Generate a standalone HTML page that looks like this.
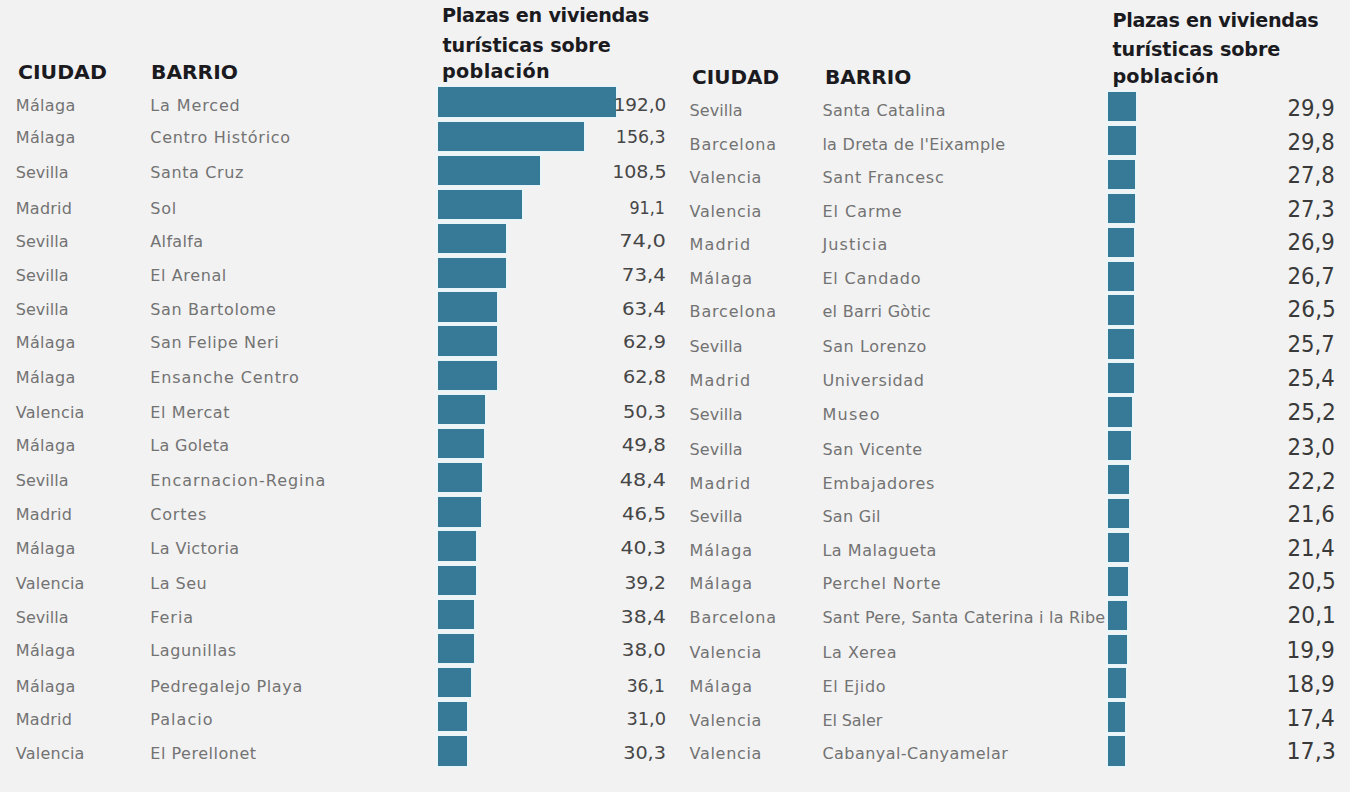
<!DOCTYPE html>
<html lang="es"><head><meta charset="utf-8"><title>Plazas en viviendas turísticas sobre población</title>
<style>
html,body{margin:0;padding:0;background:#f2f2f2;}
body{width:1350px;height:792px;position:relative;overflow:hidden;
font-family:"DejaVu Sans","Liberation Sans",sans-serif;}
#w{position:absolute;left:0;top:0;width:1350px;height:792px;}
#w>div{position:absolute;white-space:nowrap;line-height:1;}
.h{font-weight:700;color:#1b1b1f;}
.t{color:#737373;}
.lv{color:#464646;}
.rv{color:#3a3a3a;}
.bar{background:#367a98;box-shadow:0 0 0 1px rgba(228,244,250,.85),0 0 0 2px rgba(236,246,250,.5);}

</style></head><body><div id="w">
<div class="bar" style="left:437.90px;top:87.40px;width:178.40px;height:29.40px"></div>
<div class="bar" style="left:437.90px;top:121.55px;width:146.60px;height:29.40px"></div>
<div class="bar" style="left:437.90px;top:155.70px;width:102.10px;height:29.40px"></div>
<div class="bar" style="left:437.90px;top:189.85px;width:83.70px;height:29.40px"></div>
<div class="bar" style="left:437.90px;top:224.00px;width:68.40px;height:29.40px"></div>
<div class="bar" style="left:437.90px;top:258.15px;width:68.20px;height:29.40px"></div>
<div class="bar" style="left:437.90px;top:292.30px;width:59.40px;height:29.40px"></div>
<div class="bar" style="left:437.90px;top:326.45px;width:59.40px;height:29.40px"></div>
<div class="bar" style="left:437.90px;top:360.60px;width:59.40px;height:29.40px"></div>
<div class="bar" style="left:437.90px;top:394.75px;width:47.20px;height:29.40px"></div>
<div class="bar" style="left:437.90px;top:428.90px;width:45.70px;height:29.40px"></div>
<div class="bar" style="left:437.90px;top:463.05px;width:44.00px;height:29.40px"></div>
<div class="bar" style="left:437.90px;top:497.20px;width:42.70px;height:29.40px"></div>
<div class="bar" style="left:437.90px;top:531.35px;width:38.00px;height:29.40px"></div>
<div class="bar" style="left:437.90px;top:565.50px;width:38.00px;height:29.40px"></div>
<div class="bar" style="left:437.90px;top:599.65px;width:36.30px;height:29.40px"></div>
<div class="bar" style="left:437.90px;top:633.80px;width:36.30px;height:29.40px"></div>
<div class="bar" style="left:437.90px;top:667.95px;width:33.20px;height:29.40px"></div>
<div class="bar" style="left:437.90px;top:702.10px;width:28.80px;height:29.40px"></div>
<div class="bar" style="left:437.90px;top:736.25px;width:28.80px;height:29.40px"></div>
<div class="bar" style="left:1108.10px;top:92.00px;width:28.40px;height:29.40px"></div>
<div class="bar" style="left:1108.10px;top:125.91px;width:28.40px;height:29.40px"></div>
<div class="bar" style="left:1108.10px;top:159.82px;width:26.90px;height:29.40px"></div>
<div class="bar" style="left:1108.10px;top:193.73px;width:26.90px;height:29.40px"></div>
<div class="bar" style="left:1108.10px;top:227.64px;width:25.60px;height:29.40px"></div>
<div class="bar" style="left:1108.10px;top:261.55px;width:25.60px;height:29.40px"></div>
<div class="bar" style="left:1108.10px;top:295.46px;width:25.60px;height:29.40px"></div>
<div class="bar" style="left:1108.10px;top:329.37px;width:25.60px;height:29.40px"></div>
<div class="bar" style="left:1108.10px;top:363.28px;width:25.60px;height:29.40px"></div>
<div class="bar" style="left:1108.10px;top:397.19px;width:24.10px;height:29.40px"></div>
<div class="bar" style="left:1108.10px;top:431.10px;width:22.60px;height:29.40px"></div>
<div class="bar" style="left:1108.10px;top:465.01px;width:21.10px;height:29.40px"></div>
<div class="bar" style="left:1108.10px;top:498.92px;width:21.10px;height:29.40px"></div>
<div class="bar" style="left:1108.10px;top:532.83px;width:21.10px;height:29.40px"></div>
<div class="bar" style="left:1108.10px;top:566.74px;width:19.80px;height:29.40px"></div>
<div class="bar" style="left:1108.10px;top:600.65px;width:19.40px;height:29.40px"></div>
<div class="bar" style="left:1108.10px;top:634.56px;width:19.40px;height:29.40px"></div>
<div class="bar" style="left:1108.10px;top:668.47px;width:18.10px;height:29.40px"></div>
<div class="bar" style="left:1108.10px;top:702.38px;width:16.60px;height:29.40px"></div>
<div class="bar" style="left:1108.10px;top:736.29px;width:16.60px;height:29.40px"></div>
<div class="h" style="left:18.10px;top:62px;font-size:20.1px;transform:scaleX(1.0164);transform-origin:0 50%">CIUDAD</div>
<div class="h" style="left:151.40px;top:62px;font-size:20.1px;transform:scaleX(1.0059);transform-origin:0 50%">BARRIO</div>
<div class="h" style="left:442.00px;top:6px;font-size:19.2px;letter-spacing:-0.278px">Plazas en viviendas</div>
<div class="h" style="left:442.50px;top:36px;font-size:19.2px;letter-spacing:-0.073px">turísticas sobre</div>
<div class="h" style="left:442.00px;top:62px;font-size:19.2px;letter-spacing:0.337px">población</div>
<div class="h" style="left:691.90px;top:67px;font-size:20.1px;transform:scaleX(0.9965);transform-origin:0 50%">CIUDAD</div>
<div class="h" style="left:824.60px;top:67px;font-size:20.1px;transform:scaleX(0.9988);transform-origin:0 50%">BARRIO</div>
<div class="h" style="left:1112.40px;top:11px;font-size:19.2px;letter-spacing:-0.322px">Plazas en viviendas</div>
<div class="h" style="left:1112.50px;top:40px;font-size:19.2px;letter-spacing:-0.093px">turísticas sobre</div>
<div class="h" style="left:1112.40px;top:67px;font-size:19.2px;letter-spacing:0.188px">población</div>
<div class="t" style="left:15.80px;top:98px;font-size:16.0px;letter-spacing:0.320px">Málaga</div>
<div class="t" style="left:150.30px;top:98px;font-size:16.0px;letter-spacing:0.875px">La Merced</div>
<div class="lv" style="right:683.70px;top:96px;font-size:18.4px">192,0</div>
<div class="t" style="left:15.80px;top:130px;font-size:16.0px;letter-spacing:0.320px">Málaga</div>
<div class="t" style="left:150.30px;top:130px;font-size:16.0px;letter-spacing:0.720px">Centro Histórico</div>
<div class="lv" style="right:684.70px;top:128px;font-size:18.4px;transform:scaleX(0.9466);transform-origin:100% 50%">156,3</div>
<div class="t" style="left:15.80px;top:165px;font-size:16.0px;letter-spacing:0.033px">Sevilla</div>
<div class="t" style="left:150.30px;top:165px;font-size:16.0px;letter-spacing:0.611px">Santa Cruz</div>
<div class="lv" style="right:683.70px;top:163px;font-size:18.4px;transform:scaleX(1.0354);transform-origin:100% 50%">108,5</div>
<div class="t" style="left:15.80px;top:201px;font-size:16.0px;letter-spacing:0.240px">Madrid</div>
<div class="t" style="left:150.30px;top:201px;font-size:16.0px;letter-spacing:0.700px">Sol</div>
<div class="lv" style="right:684.90px;top:199px;font-size:18.4px;transform:scaleX(0.8660);transform-origin:100% 50%">91,1</div>
<div class="t" style="left:15.80px;top:234px;font-size:16.0px;letter-spacing:0.033px">Sevilla</div>
<div class="t" style="left:150.30px;top:234px;font-size:16.0px;letter-spacing:0.350px">Alfalfa</div>
<div class="lv" style="right:683.70px;top:232px;font-size:18.4px;transform:scaleX(1.1412);transform-origin:100% 50%">74,0</div>
<div class="t" style="left:15.80px;top:268px;font-size:16.0px;letter-spacing:0.033px">Sevilla</div>
<div class="t" style="left:150.30px;top:268px;font-size:16.0px;letter-spacing:0.613px">El Arenal</div>
<div class="lv" style="right:683.70px;top:266px;font-size:18.4px;transform:scaleX(1.0765);transform-origin:100% 50%">73,4</div>
<div class="t" style="left:15.80px;top:302px;font-size:16.0px;letter-spacing:0.033px">Sevilla</div>
<div class="t" style="left:150.30px;top:302px;font-size:16.0px;letter-spacing:0.608px">San Bartolome</div>
<div class="lv" style="right:683.70px;top:300px;font-size:18.4px;transform:scaleX(1.0752);transform-origin:100% 50%">63,4</div>
<div class="t" style="left:15.80px;top:335px;font-size:16.0px;letter-spacing:0.320px">Málaga</div>
<div class="t" style="left:150.30px;top:335px;font-size:16.0px;letter-spacing:0.586px">San Felipe Neri</div>
<div class="lv" style="right:683.70px;top:333px;font-size:18.4px;transform:scaleX(1.0476);transform-origin:100% 50%">62,9</div>
<div class="t" style="left:15.80px;top:370px;font-size:16.0px;letter-spacing:0.320px">Málaga</div>
<div class="t" style="left:150.30px;top:370px;font-size:16.0px;letter-spacing:0.900px">Ensanche Centro</div>
<div class="lv" style="right:683.70px;top:368px;font-size:18.4px;transform:scaleX(1.0476);transform-origin:100% 50%">62,8</div>
<div class="t" style="left:15.80px;top:405px;font-size:16.0px;letter-spacing:0.229px">Valencia</div>
<div class="t" style="left:150.30px;top:405px;font-size:16.0px;letter-spacing:0.600px">El Mercat</div>
<div class="lv" style="right:683.70px;top:403px;font-size:18.4px;transform:scaleX(1.0476);transform-origin:100% 50%">50,3</div>
<div class="t" style="left:15.80px;top:438px;font-size:16.0px;letter-spacing:0.320px">Málaga</div>
<div class="t" style="left:150.30px;top:438px;font-size:16.0px;letter-spacing:0.312px">La Goleta</div>
<div class="lv" style="right:683.70px;top:436px;font-size:18.4px;transform:scaleX(1.0817);transform-origin:100% 50%">49,8</div>
<div class="t" style="left:15.80px;top:473px;font-size:16.0px;letter-spacing:0.033px">Sevilla</div>
<div class="t" style="left:150.30px;top:473px;font-size:16.0px;letter-spacing:0.959px">Encarnacion-Regina</div>
<div class="lv" style="right:683.70px;top:471px;font-size:18.4px;transform:scaleX(1.1288);transform-origin:100% 50%">48,4</div>
<div class="t" style="left:15.80px;top:507px;font-size:16.0px;letter-spacing:0.240px">Madrid</div>
<div class="t" style="left:150.30px;top:507px;font-size:16.0px;letter-spacing:0.800px">Cortes</div>
<div class="lv" style="right:683.70px;top:505px;font-size:18.4px;transform:scaleX(1.0711);transform-origin:100% 50%">46,5</div>
<div class="t" style="left:15.80px;top:541px;font-size:16.0px;letter-spacing:0.320px">Málaga</div>
<div class="t" style="left:150.30px;top:541px;font-size:16.0px;letter-spacing:0.430px">La Victoria</div>
<div class="lv" style="right:683.70px;top:539px;font-size:18.4px;transform:scaleX(1.1107);transform-origin:100% 50%">40,3</div>
<div class="t" style="left:15.80px;top:576px;font-size:16.0px;letter-spacing:0.229px">Valencia</div>
<div class="t" style="left:150.30px;top:576px;font-size:16.0px;letter-spacing:0.500px">La Seu</div>
<div class="lv" style="right:683.70px;top:574px;font-size:18.4px;transform:scaleX(1.0133);transform-origin:100% 50%">39,2</div>
<div class="t" style="left:15.80px;top:610px;font-size:16.0px;letter-spacing:0.033px">Sevilla</div>
<div class="t" style="left:150.30px;top:610px;font-size:16.0px;letter-spacing:0.950px">Feria</div>
<div class="lv" style="right:683.70px;top:608px;font-size:18.4px;transform:scaleX(1.1014);transform-origin:100% 50%">38,4</div>
<div class="t" style="left:15.80px;top:643px;font-size:16.0px;letter-spacing:0.320px">Málaga</div>
<div class="t" style="left:150.30px;top:643px;font-size:16.0px;letter-spacing:0.578px">Lagunillas</div>
<div class="lv" style="right:683.70px;top:641px;font-size:18.4px;transform:scaleX(1.0765);transform-origin:100% 50%">38,0</div>
<div class="t" style="left:15.80px;top:679px;font-size:16.0px;letter-spacing:0.320px">Málaga</div>
<div class="t" style="left:150.30px;top:679px;font-size:16.0px;letter-spacing:0.625px">Pedregalejo Playa</div>
<div class="lv" style="right:684.90px;top:677px;font-size:18.4px;transform:scaleX(0.9344);transform-origin:100% 50%">36,1</div>
<div class="t" style="left:15.80px;top:712px;font-size:16.0px;letter-spacing:0.240px">Madrid</div>
<div class="t" style="left:150.30px;top:712px;font-size:16.0px;letter-spacing:1.033px">Palacio</div>
<div class="lv" style="right:683.70px;top:710px;font-size:18.4px;transform:scaleX(0.9658);transform-origin:100% 50%">31,0</div>
<div class="t" style="left:15.80px;top:746px;font-size:16.0px;letter-spacing:0.229px">Valencia</div>
<div class="t" style="left:150.30px;top:746px;font-size:16.0px;letter-spacing:0.517px">El Perellonet</div>
<div class="lv" style="right:683.70px;top:744px;font-size:18.4px;transform:scaleX(1.0448);transform-origin:100% 50%">30,3</div>
<div class="t" style="left:689.60px;top:103px;font-size:16.0px;letter-spacing:0.050px">Sevilla</div>
<div class="t" style="left:822.40px;top:103px;font-size:16.0px;letter-spacing:0.454px">Santa Catalina</div>
<div class="rv" style="right:15.20px;top:97px;font-size:22.4px;transform:scaleX(0.9481);transform-origin:100% 50%">29,9</div>
<div class="t" style="left:689.60px;top:137px;font-size:16.0px;letter-spacing:0.825px">Barcelona</div>
<div class="t" style="left:822.40px;top:137px;font-size:16.0px;letter-spacing:0.281px">la Dreta de l'Eixample</div>
<div class="rv" style="right:15.20px;top:131px;font-size:22.4px;transform:scaleX(0.9481);transform-origin:100% 50%">29,8</div>
<div class="t" style="left:689.60px;top:170px;font-size:16.0px;letter-spacing:0.686px">Valencia</div>
<div class="t" style="left:822.40px;top:170px;font-size:16.0px;letter-spacing:0.800px">Sant Francesc</div>
<div class="rv" style="right:15.20px;top:164px;font-size:22.4px;transform:scaleX(0.9481);transform-origin:100% 50%">27,8</div>
<div class="t" style="left:689.60px;top:204px;font-size:16.0px;letter-spacing:0.686px">Valencia</div>
<div class="t" style="left:822.40px;top:204px;font-size:16.0px;letter-spacing:0.986px">El Carme</div>
<div class="rv" style="right:15.20px;top:198px;font-size:22.4px;transform:scaleX(0.9481);transform-origin:100% 50%">27,3</div>
<div class="t" style="left:689.60px;top:237px;font-size:16.0px;letter-spacing:1.100px">Madrid</div>
<div class="t" style="left:822.40px;top:237px;font-size:16.0px;letter-spacing:1.129px">Justicia</div>
<div class="rv" style="right:15.20px;top:231px;font-size:22.4px;transform:scaleX(0.9481);transform-origin:100% 50%">26,9</div>
<div class="t" style="left:689.60px;top:271px;font-size:16.0px;letter-spacing:0.920px">Málaga</div>
<div class="t" style="left:822.40px;top:271px;font-size:16.0px;letter-spacing:0.844px">El Candado</div>
<div class="rv" style="right:15.20px;top:265px;font-size:22.4px;transform:scaleX(0.9481);transform-origin:100% 50%">26,7</div>
<div class="t" style="left:689.60px;top:304px;font-size:16.0px;letter-spacing:0.825px">Barcelona</div>
<div class="t" style="left:822.40px;top:304px;font-size:16.0px;letter-spacing:0.300px">el Barri Gòtic</div>
<div class="rv" style="right:14.20px;top:298px;font-size:22.4px;transform:scaleX(0.9691);transform-origin:100% 50%">26,5</div>
<div class="t" style="left:689.60px;top:339px;font-size:16.0px;letter-spacing:0.050px">Sevilla</div>
<div class="t" style="left:822.40px;top:339px;font-size:16.0px;letter-spacing:0.600px">San Lorenzo</div>
<div class="rv" style="right:15.20px;top:333px;font-size:22.4px;transform:scaleX(0.9481);transform-origin:100% 50%">25,7</div>
<div class="t" style="left:689.60px;top:373px;font-size:16.0px;letter-spacing:1.100px">Madrid</div>
<div class="t" style="left:822.40px;top:373px;font-size:16.0px;letter-spacing:0.640px">Universidad</div>
<div class="rv" style="right:15.20px;top:367px;font-size:22.4px;transform:scaleX(0.9481);transform-origin:100% 50%">25,4</div>
<div class="t" style="left:689.60px;top:407px;font-size:16.0px;letter-spacing:0.050px">Sevilla</div>
<div class="t" style="left:822.40px;top:407px;font-size:16.0px;letter-spacing:1.300px">Museo</div>
<div class="rv" style="right:14.20px;top:401px;font-size:22.4px;transform:scaleX(0.9691);transform-origin:100% 50%">25,2</div>
<div class="t" style="left:689.60px;top:442px;font-size:16.0px;letter-spacing:0.050px">Sevilla</div>
<div class="t" style="left:822.40px;top:442px;font-size:16.0px;letter-spacing:0.460px">San Vicente</div>
<div class="rv" style="right:15.20px;top:436px;font-size:22.4px;transform:scaleX(0.9481);transform-origin:100% 50%">23,0</div>
<div class="t" style="left:689.60px;top:476px;font-size:16.0px;letter-spacing:1.100px">Madrid</div>
<div class="t" style="left:822.40px;top:476px;font-size:16.0px;letter-spacing:0.780px">Embajadores</div>
<div class="rv" style="right:14.20px;top:470px;font-size:22.4px;transform:scaleX(0.9691);transform-origin:100% 50%">22,2</div>
<div class="t" style="left:689.60px;top:509px;font-size:16.0px;letter-spacing:0.050px">Sevilla</div>
<div class="t" style="left:822.40px;top:509px;font-size:16.0px;letter-spacing:0.283px">San Gil</div>
<div class="rv" style="right:15.20px;top:503px;font-size:22.4px;transform:scaleX(0.9481);transform-origin:100% 50%">21,6</div>
<div class="t" style="left:689.60px;top:543px;font-size:16.0px;letter-spacing:0.920px">Málaga</div>
<div class="t" style="left:822.40px;top:543px;font-size:16.0px;letter-spacing:0.555px">La Malagueta</div>
<div class="rv" style="right:15.20px;top:537px;font-size:22.4px;transform:scaleX(0.9481);transform-origin:100% 50%">21,4</div>
<div class="t" style="left:689.60px;top:576px;font-size:16.0px;letter-spacing:0.920px">Málaga</div>
<div class="t" style="left:822.40px;top:576px;font-size:16.0px;letter-spacing:0.850px">Perchel Norte</div>
<div class="rv" style="right:14.20px;top:570px;font-size:22.4px;transform:scaleX(0.9691);transform-origin:100% 50%">20,5</div>
<div class="t" style="left:689.60px;top:610px;font-size:16.0px;letter-spacing:0.825px">Barcelona</div>
<div class="t" style="left:822.40px;top:610px;font-size:16.0px;letter-spacing:0.215px;width:282.40px;overflow:hidden">Sant Pere, Santa Caterina i la Ribera</div>
<div class="rv" style="right:14.20px;top:604px;font-size:22.4px;transform:scaleX(0.9691);transform-origin:100% 50%">20,1</div>
<div class="t" style="left:689.60px;top:645px;font-size:16.0px;letter-spacing:0.686px">Valencia</div>
<div class="t" style="left:822.40px;top:645px;font-size:16.0px;letter-spacing:0.614px">La Xerea</div>
<div class="rv" style="right:15.20px;top:639px;font-size:22.4px;transform:scaleX(0.9696);transform-origin:100% 50%">19,9</div>
<div class="t" style="left:689.60px;top:679px;font-size:16.0px;letter-spacing:0.920px">Málaga</div>
<div class="t" style="left:822.40px;top:679px;font-size:16.0px;letter-spacing:0.643px">El Ejido</div>
<div class="rv" style="right:15.20px;top:673px;font-size:22.4px;transform:scaleX(0.9696);transform-origin:100% 50%">18,9</div>
<div class="t" style="left:689.60px;top:713px;font-size:16.0px;letter-spacing:0.686px">Valencia</div>
<div class="t" style="left:822.40px;top:713px;font-size:16.0px;letter-spacing:-0.086px">El Saler</div>
<div class="rv" style="right:15.20px;top:707px;font-size:22.4px;transform:scaleX(0.9696);transform-origin:100% 50%">17,4</div>
<div class="t" style="left:689.60px;top:746px;font-size:16.0px;letter-spacing:0.686px">Valencia</div>
<div class="t" style="left:822.40px;top:746px;font-size:16.0px;letter-spacing:0.456px">Cabanyal-Canyamelar</div>
<div class="rv" style="right:14.20px;top:740px;font-size:22.4px;transform:scaleX(0.9922);transform-origin:100% 50%">17,3</div>
</div></body></html>
